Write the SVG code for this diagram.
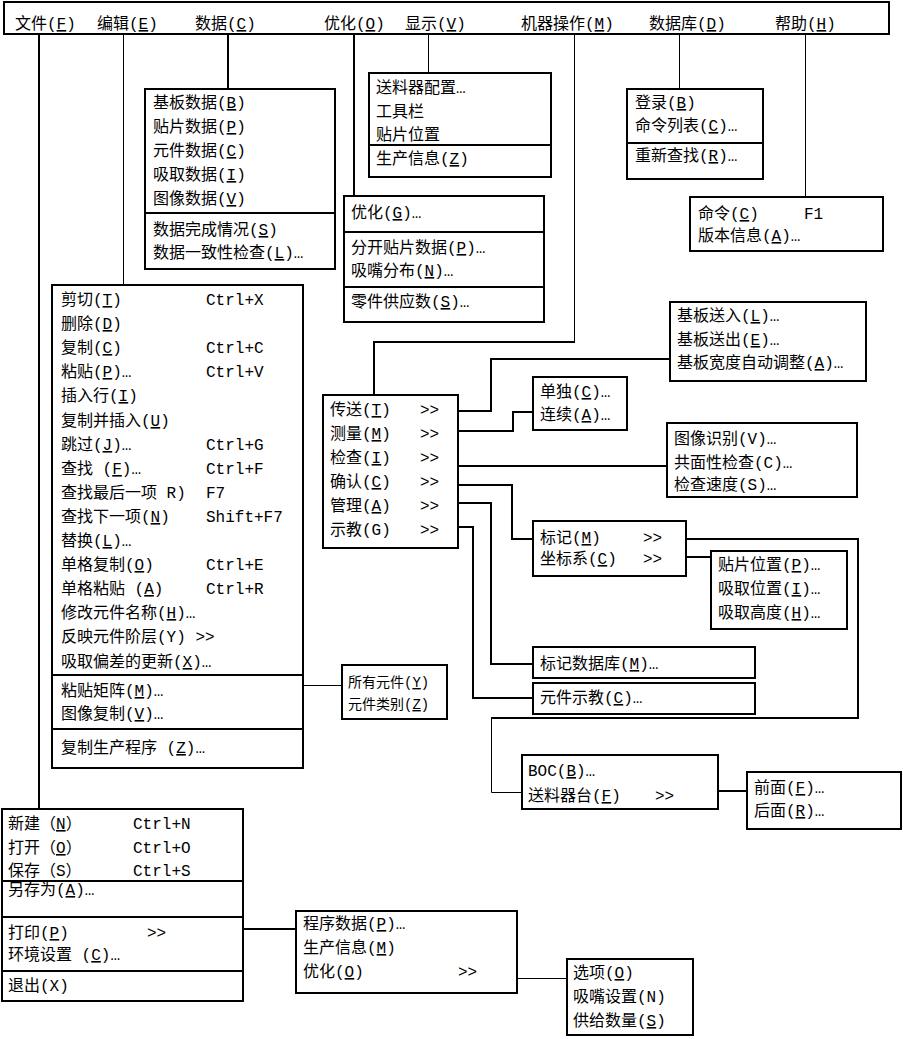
<svg xmlns="http://www.w3.org/2000/svg" width="903" height="1039" viewBox="0 0 903 1039">
<style>
.b{fill:#fff;stroke:#000;stroke-width:2}
.d{stroke:#000;stroke-width:2}
.c{fill:none;stroke:#000;stroke-width:2}
.ct{fill:none;stroke:#000;stroke-width:1}
text{font-family:"Liberation Mono","Noto Sans CJK SC",monospace;font-size:16px;fill:#000}
.s{font-size:14px}
.u{text-decoration:underline}
</style>
<rect width="903" height="1039" fill="#fff"/>
<g id="connectors">
<path class="c" d="M39,34V809"/>
<path class="ct" d="M123.5,34V285"/>
<path class="c" d="M228,34V89"/>
<path class="c" d="M354,34V196"/>
<path class="ct" d="M428.5,34V72"/>
<path class="ct" d="M574.5,34V342"/>
<path class="c" d="M575,342H374V395"/>
<path class="ct" d="M679.5,34V89"/>
<path class="ct" d="M805.5,34V197"/>
<path class="ct" d="M303,685.5H342"/>
<path class="c" d="M458,411H491V359H670"/>
<path class="c" d="M458,431H513V412H533"/>
<path class="c" d="M458,466H667"/>
<path class="c" d="M458,485H512V539H533"/>
<path class="c" d="M458,503H491V664H533"/>
<path class="c" d="M458,527H473V698H533"/>
<path class="c" d="M686,539H858V718H491"/>
<path class="ct" d="M491.5,718V792.5H522"/>
<path class="c" d="M686,557H711"/>
<path class="c" d="M718,791H747"/>
<path class="c" d="M243,929H296"/>
<path class="ct" d="M517,978.5H567"/>
</g>
<g id="menubar">
<rect class="b" x="4" y="2" width="885" height="32"/>
<text x="15" y="29">文件(<tspan class="u">F</tspan>)</text>
<text x="97" y="29">编辑(<tspan class="u">E</tspan>)</text>
<text x="195" y="29">数据(<tspan class="u">C</tspan>)</text>
<text x="324" y="29">优化(<tspan class="u">O</tspan>)</text>
<text x="405" y="29">显示(<tspan class="u">V</tspan>)</text>
<text x="521" y="29">机器操作(<tspan class="u">M</tspan>)</text>
<text x="649" y="29">数据库(<tspan class="u">D</tspan>)</text>
<text x="775" y="29">帮助(<tspan class="u">H</tspan>)</text>
</g>
<g id="data-menu">
<rect class="b" x="145" y="89" width="190" height="180"/>
<path class="d" d="M145,213H335"/>
<text x="153" y="108">基板数据(<tspan class="u">B</tspan>)</text>
<text x="153" y="132">贴片数据(<tspan class="u">P</tspan>)</text>
<text x="153" y="156">元件数据(<tspan class="u">C</tspan>)</text>
<text x="153" y="180">吸取数据(<tspan class="u">I</tspan>)</text>
<text x="153" y="204">图像数据(<tspan class="u">V</tspan>)</text>
<text x="153" y="235">数据完成情况(<tspan class="u">S</tspan>)</text>
<text x="153" y="258">数据一致性检查(<tspan class="u">L</tspan>)…</text>
</g>
<g id="display-menu">
<rect class="b" x="369" y="73" width="182" height="104"/>
<path class="d" d="M369,145H551"/>
<text x="376" y="93">送料器配置…</text>
<text x="376" y="117">工具栏</text>
<text x="376" y="140">贴片位置</text>
<text x="376" y="164">生产信息(<tspan class="u">Z</tspan>)</text>
</g>
<g id="optimize-menu">
<rect class="b" x="344" y="196" width="200" height="126"/>
<path class="d" d="M344,232H544M344,287H544"/>
<text x="351" y="218">优化(<tspan class="u">G</tspan>)…</text>
<text x="351" y="253">分开贴片数据(<tspan class="u">P</tspan>)…</text>
<text x="351" y="276">吸嘴分布(<tspan class="u">N</tspan>)…</text>
<text x="351" y="307">零件供应数(<tspan class="u">S</tspan>)…</text>
</g>
<g id="database-menu">
<rect class="b" x="627" y="89" width="136" height="90"/>
<path class="d" d="M627,143H763"/>
<text x="635" y="108">登录(<tspan class="u">B</tspan>)</text>
<text x="635" y="131">命令列表(<tspan class="u">C</tspan>)…</text>
<text x="635" y="161">重新查找(<tspan class="u">R</tspan>)…</text>
</g>
<g id="help-menu">
<rect class="b" x="690" y="197" width="193" height="54"/>
<text x="698" y="219">命令(<tspan class="u">C</tspan>)</text>
<text x="804" y="219">F1</text>
<text x="698" y="241">版本信息(<tspan class="u">A</tspan>)…</text>
</g>
<g id="edit-menu">
<rect class="b" x="52" y="285" width="251" height="483"/>
<path class="d" d="M52,675H303M52,729H303"/>
<text x="61" y="305">剪切(<tspan class="u">T</tspan>)</text>
<text x="206" y="305">Ctrl+X</text>
<text x="61" y="329">删除(<tspan class="u">D</tspan>)</text>
<text x="61" y="353">复制(<tspan class="u">C</tspan>)</text>
<text x="206" y="353">Ctrl+C</text>
<text x="61" y="377">粘贴(<tspan class="u">P</tspan>)…</text>
<text x="206" y="377">Ctrl+V</text>
<text x="61" y="401">插入行(<tspan class="u">I</tspan>)</text>
<text x="61" y="426">复制并插入(<tspan class="u">U</tspan>)</text>
<text x="61" y="450">跳过(<tspan class="u">J</tspan>)…</text>
<text x="206" y="450">Ctrl+G</text>
<text x="61" y="474">查找 (<tspan class="u">F</tspan>)…</text>
<text x="206" y="474">Ctrl+F</text>
<text x="61" y="498">查找最后一项 R)</text>
<text x="206" y="498">F7</text>
<text x="61" y="522">查找下一项(<tspan class="u">N</tspan>)</text>
<text x="206" y="522">Shift+F7</text>
<text x="61" y="546">替换(<tspan class="u">L</tspan>)…</text>
<text x="61" y="570">单格复制(<tspan class="u">O</tspan>)</text>
<text x="206" y="570">Ctrl+E</text>
<text x="61" y="594">单格粘贴 (<tspan class="u">A</tspan>)</text>
<text x="206" y="594">Ctrl+R</text>
<text x="61" y="618">修改元件名称(<tspan class="u">H</tspan>)…</text>
<text x="61" y="642">反映元件阶层(Y) &gt;&gt;</text>
<text x="61" y="667">吸取偏差的更新(<tspan class="u">X</tspan>)…</text>
<text x="61" y="696">粘贴矩阵(<tspan class="u">M</tspan>)…</text>
<text x="61" y="719">图像复制(<tspan class="u">V</tspan>)…</text>
<text x="61" y="753">复制生产程序 (<tspan class="u">Z</tspan>)…</text>
</g>
<g id="component-submenu">
<rect class="b" x="342" y="665" width="105" height="54"/>
<text class="s" x="348" y="687">所有元件(<tspan class="u">Y</tspan>)</text>
<text class="s" x="348" y="709">元件类别(<tspan class="u">Z</tspan>)</text>
</g>
<g id="machine-menu">
<rect class="b" x="323" y="395" width="135" height="153"/>
<text x="330" y="415">传送(<tspan class="u">T</tspan>)</text>
<text x="420" y="415">&gt;&gt;</text>
<text x="330" y="439">测量(<tspan class="u">M</tspan>)</text>
<text x="420" y="439">&gt;&gt;</text>
<text x="330" y="463">检查(<tspan class="u">I</tspan>)</text>
<text x="420" y="463">&gt;&gt;</text>
<text x="330" y="487">确认(<tspan class="u">C</tspan>)</text>
<text x="420" y="487">&gt;&gt;</text>
<text x="330" y="511">管理(<tspan class="u">A</tspan>)</text>
<text x="420" y="511">&gt;&gt;</text>
<text x="330" y="535">示教(G)</text>
<text x="420" y="535">&gt;&gt;</text>
</g>
<g id="transfer-submenu">
<rect class="b" x="670" y="302" width="196" height="79"/>
<text x="677" y="321">基板送入(<tspan class="u">L</tspan>)…</text>
<text x="677" y="345">基板送出(<tspan class="u">E</tspan>)…</text>
<text x="677" y="368">基板宽度自动调整(<tspan class="u">A</tspan>)…</text>
</g>
<g id="measure-submenu">
<rect class="b" x="533" y="377" width="94" height="53"/>
<text x="540" y="397">单独(<tspan class="u">C</tspan>)…</text>
<text x="540" y="420">连续(<tspan class="u">A</tspan>)…</text>
</g>
<g id="inspect-submenu">
<rect class="b" x="667" y="423" width="190" height="74"/>
<text x="674" y="444">图像识别(V)…</text>
<text x="674" y="468">共面性检查(C)…</text>
<text x="674" y="490">检查速度(S)…</text>
</g>
<g id="confirm-submenu">
<rect class="b" x="533" y="521" width="153" height="55"/>
<text x="540" y="543">标记(<tspan class="u">M</tspan>)</text>
<text x="643" y="543">&gt;&gt;</text>
<text x="540" y="564">坐标系(<tspan class="u">C</tspan>)</text>
<text x="643" y="564">&gt;&gt;</text>
</g>
<g id="coordinate-submenu">
<rect class="b" x="711" y="551" width="136" height="78"/>
<text x="718" y="570">贴片位置(<tspan class="u">P</tspan>)…</text>
<text x="718" y="594">吸取位置(<tspan class="u">I</tspan>)…</text>
<text x="718" y="618">吸取高度(<tspan class="u">H</tspan>)…</text>
</g>
<g id="mark-database">
<rect class="b" x="533" y="647" width="222" height="31"/>
<text x="540" y="669">标记数据库(<tspan class="u">M</tspan>)…</text>
</g>
<g id="component-teach">
<rect class="b" x="533" y="683" width="222" height="31"/>
<text x="540" y="703">元件示教(<tspan class="u">C</tspan>)…</text>
</g>
<g id="boc-menu">
<rect class="b" x="522" y="755" width="196" height="54"/>
<text x="528" y="776">BOC(<tspan class="u">B</tspan>)…</text>
<text x="528" y="801">送料器台(<tspan class="u">F</tspan>)</text>
<text x="655" y="801">&gt;&gt;</text>
</g>
<g id="feeder-submenu">
<rect class="b" x="747" y="772" width="154" height="57"/>
<text x="754" y="793">前面(<tspan class="u">F</tspan>)…</text>
<text x="754" y="816">后面(<tspan class="u">R</tspan>)…</text>
</g>
<g id="file-menu">
<rect class="b" x="2" y="809" width="241" height="192"/>
<path class="d" d="M2,881H243M2,917H243M2,971H243"/>
<text x="8" y="829">新建（<tspan class="u">N</tspan>）</text>
<text x="133" y="829">Ctrl+N</text>
<text x="8" y="853">打开（<tspan class="u">O</tspan>）</text>
<text x="133" y="853">Ctrl+O</text>
<text x="8" y="876">保存（S）</text>
<text x="133" y="876">Ctrl+S</text>
<text x="8" y="895">另存为(<tspan class="u">A</tspan>)…</text>
<text x="8" y="938">打印(<tspan class="u">P</tspan>)</text>
<text x="147" y="938">&gt;&gt;</text>
<text x="8" y="960">环境设置 (<tspan class="u">C</tspan>)…</text>
<text x="8" y="991">退出(X)</text>
</g>
<g id="print-submenu">
<rect class="b" x="296" y="911" width="221" height="82"/>
<text x="303" y="929">程序数据(<tspan class="u">P</tspan>)…</text>
<text x="303" y="953">生产信息(<tspan class="u">M</tspan>)</text>
<text x="303" y="977">优化(<tspan class="u">O</tspan>)</text>
<text x="458" y="977">&gt;&gt;</text>
</g>
<g id="optimize-print-submenu">
<rect class="b" x="567" y="959" width="126" height="76"/>
<text x="573" y="978">选项(<tspan class="u">O</tspan>)</text>
<text x="573" y="1002">吸嘴设置(N)</text>
<text x="573" y="1026">供给数量(<tspan class="u">S</tspan>)</text>
</g>
</svg>
